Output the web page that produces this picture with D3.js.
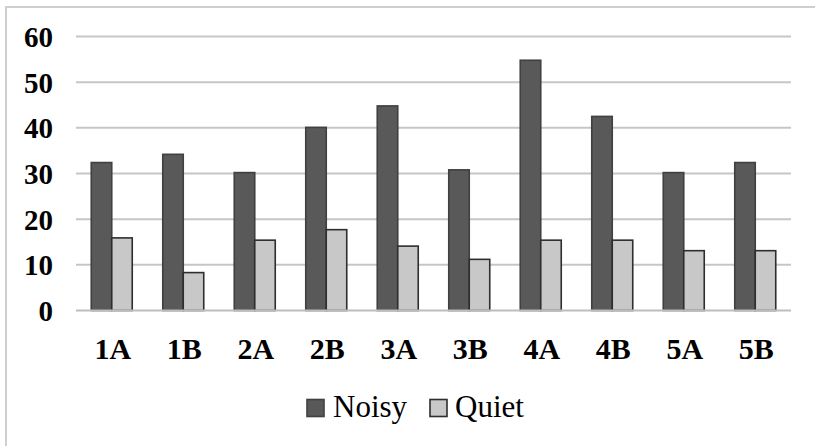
<!DOCTYPE html>
<html>
<head>
<meta charset="utf-8">
<script src="https://cdn.jsdelivr.net/npm/d3@7"></script>
<style>
  html, body { margin: 0; padding: 0; background: #fff; }
  svg { display: block; }
  svg text { font-family: "Liberation Serif", "Times New Roman", Times, "DejaVu Serif", serif; }
</style>
</head>
<body>
<svg id="chart" width="815" height="446"></svg>
<script>
const categories = ["1A", "1B", "2A", "2B", "3A", "3B", "4A", "4B", "5A", "5B"];
const seriesNames = ["Noisy", "Quiet"];
const noisyValues = [32.4, 34.2, 30.2, 40.1, 44.8, 30.8, 54.8, 42.5, 30.2, 32.4];
const quietValues = [15.9, 8.3, 15.4, 17.7, 14.1, 11.2, 15.4, 15.4, 13.1, 13.1];
const yTicks = [0, 10, 20, 30, 40, 50, 60];

const colors = { Noisy: "#595959", Quiet: "#c8c8c8" };
const strokes = { Noisy: "#404040", Quiet: "#2e2e2e" };

const svg = d3.select("#chart");
const W = 815, H = 446;
const plot = { left: 76, right: 791, top: 36.5, bottom: 310.5 };

// outer frame (left & top visible)
svg.append("path")
  .attr("d", `M6,${H} L6,7 L${W},7`)
  .attr("fill", "none").attr("stroke", "#cfcfcf").attr("stroke-width", 2);

const y = d3.scaleLinear().domain([0, 60]).range([plot.bottom, plot.top]);
const x0 = d3.scaleBand().domain(categories).range([plot.left, plot.right]).padding(0);
const x1 = d3.scaleBand().domain(seriesNames).range([0, x0.bandwidth()]).paddingInner(0).paddingOuter(0.744);

// gridlines
svg.append("g").selectAll("line").data(yTicks.filter(t => t > 0)).join("line")
  .attr("x1", plot.left).attr("x2", plot.right)
  .attr("y1", d => y(d)).attr("y2", d => y(d))
  .attr("stroke", "#c6c6c6").attr("stroke-width", 2);

// y axis labels
const yAxis = d3.axisLeft(y).tickValues(yTicks).tickSize(0).tickPadding(0);
const gy = svg.append("g").attr("transform", `translate(53,0)`).call(yAxis);
gy.attr("font-family", null);
gy.select(".domain").remove();
gy.selectAll("text")
  .style("font-weight", "bold")
  .style("font-size", "29px").attr("fill", "#000").attr("dy", "0.34em");

// bars
const data = categories.map((c, i) => ({ cat: c, Noisy: noisyValues[i], Quiet: quietValues[i] }));
const groups = svg.append("g").selectAll("g").data(data).join("g")
  .attr("transform", d => `translate(${x0(d.cat)},0)`);
groups.selectAll("rect")
  .data(d => seriesNames.map(s => ({ s, v: d[s] })))
  .join("rect")
  .attr("x", d => x1(d.s))
  .attr("width", x1.bandwidth())
  .attr("y", d => y(d.v))
  .attr("height", d => y(0) - y(d.v))
  .attr("fill", d => colors[d.s])
  .attr("stroke", d => strokes[d.s])
  .attr("stroke-width", 1.6);

// x axis line
svg.append("line")
  .attr("x1", plot.left).attr("x2", plot.right)
  .attr("y1", y(0)).attr("y2", y(0))
  .attr("stroke", "#bdbdbd").attr("stroke-width", 2);

// x axis labels
const xAxis = d3.axisBottom(x0).tickSize(0).tickPadding(0);
const gx = svg.append("g").attr("transform", `translate(1,359)`).call(xAxis);
gx.attr("font-family", null);
gx.select(".domain").remove();
gx.selectAll("text")
  .style("font-weight", "bold")
  .style("font-size", "30px").attr("fill", "#000").attr("dy", 0).attr("y", 0);

// legend
const legend = svg.append("g");
const legendItems = [
  { s: "Noisy", bx: 307, tx: 333 },
  { s: "Quiet", bx: 430, tx: 455 }
];
legendItems.forEach(it => {
  legend.append("rect")
    .attr("x", it.bx).attr("y", 399.5).attr("width", 17).attr("height", 17)
    .attr("fill", colors[it.s]).attr("stroke", strokes[it.s]).attr("stroke-width", 1.6);
  legend.append("text")
    .attr("x", it.tx).attr("y", 417)
    .style("font-size", "31px").attr("fill", "#000")
    .text(it.s);
});
</script>
</body>
</html>
